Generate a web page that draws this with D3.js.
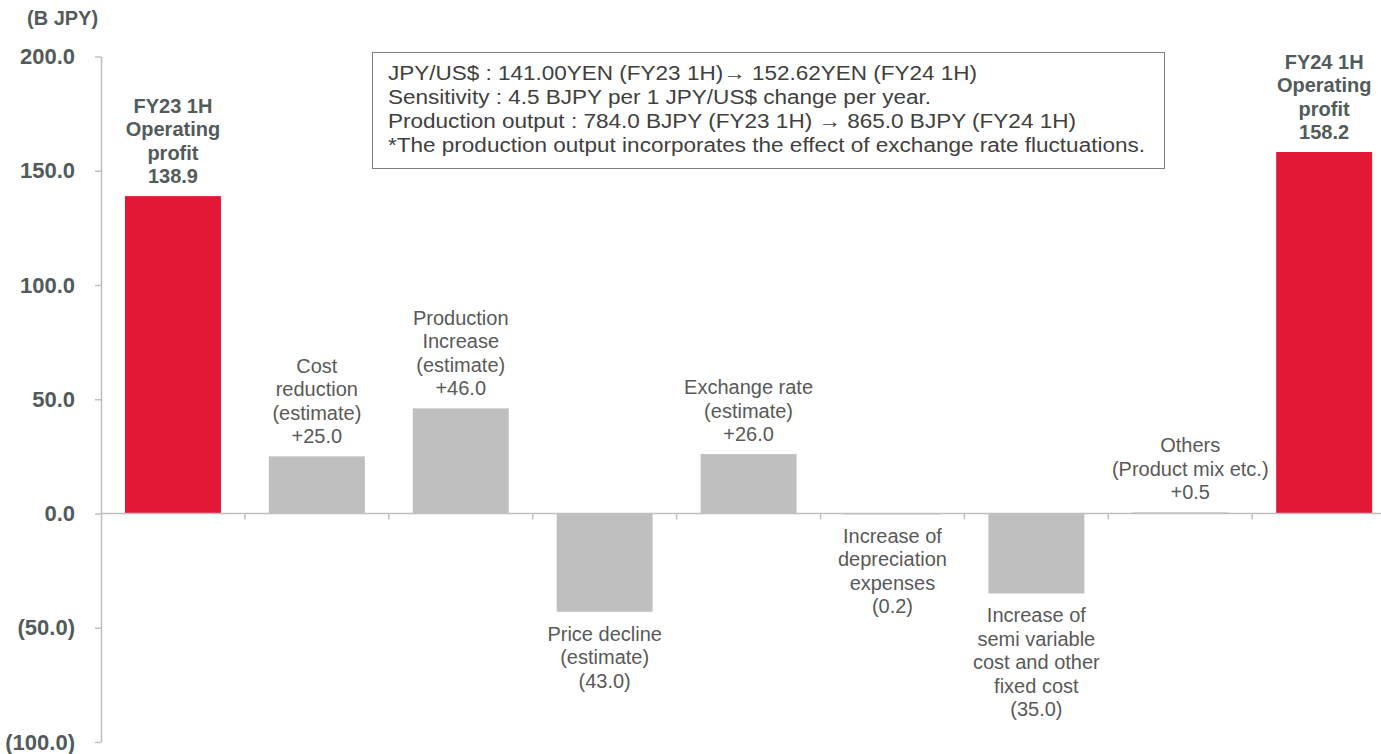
<!DOCTYPE html>
<html>
<head>
<meta charset="utf-8">
<script src="https://cdn.jsdelivr.net/npm/d3@7"></script>
<style>
  body { margin: 0; background: #fff; }
  text { font-family: "Liberation Sans", Arial, sans-serif; }
</style>
</head>
<body>
<div id="chart-area"></div>
<script>
// data
const categories = ['fy23', 'cost', 'prod', 'price', 'fx', 'depr', 'semi', 'others', 'fy24']
const values = [138.9, 25.0, 46.0, -43.0, 26.0, -0.2, -35.0, 0.5, 158.2]
const isTotal = [true, false, false, false, false, false, false, false, true]
const labels = [
    ['FY23 1H', 'Operating', 'profit', '138.9'],
    ['Cost', 'reduction', '(estimate)', '+25.0'],
    ['Production', 'Increase', '(estimate)', '+46.0'],
    ['Price decline', '(estimate)', '(43.0)'],
    ['Exchange rate', '(estimate)', '+26.0'],
    ['Increase of', 'depreciation', 'expenses', '(0.2)'],
    ['Increase of', 'semi variable', 'cost and other', 'fixed cost', '(35.0)'],
    ['Others', '(Product mix etc.)', '+0.5'],
    ['FY24 1H', 'Operating', 'profit', '158.2']
]
const yTicks = [200, 150, 100, 50, 0, -50, -100]
const noteLines = [
    'JPY/US$ : 141.00YEN (FY23 1H)\u2192 152.62YEN (FY24 1H)',
    'Sensitivity : 4.5 BJPY per 1 JPY/US$ change per year.',
    'Production output : 784.0 BJPY (FY23 1H) \u2192 865.0 BJPY (FY24 1H)',
    '*The production output incorporates the effect of exchange rate fluctuations.'
]
const noteWidths = [589, 543, 688, 757]

const width = 1381
const height = 754
const axisColor = '#bfbfbf'
const textColor = '#595959'

const svg = d3.select('#chart-area').append('svg')
    .attr('width', width)
    .attr('height', height)

const xScale = d3.scaleBand()
    .domain(categories)
    .range([101, 101 + 9 * 143.9])
    .paddingInner(0.333)
    .paddingOuter(0.1665)

const yScale = d3.scaleLinear()
    .domain([-100, 200])
    .range([742, 56.5])

// y axis
const fmt = v => v < 0 ? `(${Math.abs(v).toFixed(1)})` : v.toFixed(1)
const yAxis = svg.append('g')
    .attr('transform', 'translate(101, 0)')
    .call(d3.axisLeft(yScale).tickValues(yTicks).tickFormat(fmt).tickSize(6).tickSizeOuter(0))
yAxis.select('.domain').attr('stroke', axisColor).attr('stroke-width', 1.5)
yAxis.selectAll('.tick line').attr('stroke', axisColor).attr('stroke-width', 1.5)
yAxis.selectAll('.tick text')
    .attr('x', -26)
    .attr('fill', '#525b5b')
    .attr('font-size', '22px')
    .attr('font-weight', 'bold')

svg.append('text')
    .attr('x', 27)
    .attr('y', 25)
    .attr('fill', '#525b5b')
    .attr('font-size', '20px')
    .attr('font-weight', 'bold')
    .text('(B JPY)')

// bars
svg.selectAll('rect.bar')
    .data(values)
    .enter()
    .append('rect')
    .attr('class', 'bar')
    .attr('x', (d, i) => xScale(categories[i]))
    .attr('width', xScale.bandwidth())
    .attr('y', d => yScale(Math.max(0, d)))
    .attr('height', d => Math.max(1, Math.abs(yScale(d) - yScale(0))))
    .attr('fill', (d, i) => isTotal[i] ? '#e31837' : '#bfbfbf')

// x axis (zero line)
const step = xScale.step()
const x0 = 101
svg.append('line')
    .attr('x1', x0).attr('x2', width)
    .attr('y1', yScale(0)).attr('y2', yScale(0))
    .attr('stroke', axisColor).attr('stroke-width', 1.5)
svg.selectAll('line.xtick')
    .data(d3.range(1, 9))
    .enter()
    .append('line')
    .attr('class', 'xtick')
    .attr('x1', i => x0 + i * step).attr('x2', i => x0 + i * step)
    .attr('y1', yScale(0)).attr('y2', yScale(0) + 6)
    .attr('stroke', axisColor).attr('stroke-width', 1.5)

// labels
const lineH = 23.5
labels.forEach((lines, i) => {
    const v = values[i]
    let cx = xScale(categories[i]) + xScale.bandwidth() / 2
    if (categories[i] === 'others') cx += 10  // label nudged right in the original
    let firstY
    if (v >= 0) {
        firstY = yScale(v) - 20 - (lines.length - 1) * lineH
    } else {
        firstY = yScale(v) + 22
    }
    const t = svg.append('text')
        .attr('text-anchor', 'middle')
        .attr('fill', isTotal[i] ? '#525b5b' : textColor)
        .attr('font-size', '20px')
        .attr('font-weight', isTotal[i] ? 'bold' : 'normal')
    lines.forEach((ln, j) => {
        t.append('tspan')
            .attr('x', cx)
            .attr('y', firstY + j * lineH)
            .attr('dy', '0.35em')
            .text(ln)
    })
})

// note box
svg.append('rect')
    .attr('x', 372.5).attr('y', 52.5)
    .attr('width', 792).attr('height', 116)
    .attr('fill', '#fff')
    .attr('stroke', '#7f7f7f')
    .attr('stroke-width', 1)
svg.selectAll('text.note')
    .data(noteLines)
    .enter()
    .append('text')
    .attr('class', 'note')
    .attr('x', 388)
    .attr('y', (d, i) => 73 + i * 24)
    .attr('dy', '0.35em')
    .attr('fill', '#404040')
    .attr('font-size', '20px')
    .attr('textLength', (d, i) => noteWidths[i])
    .attr('lengthAdjust', 'spacingAndGlyphs')
    .text(d => d)
</script>
</body>
</html>
